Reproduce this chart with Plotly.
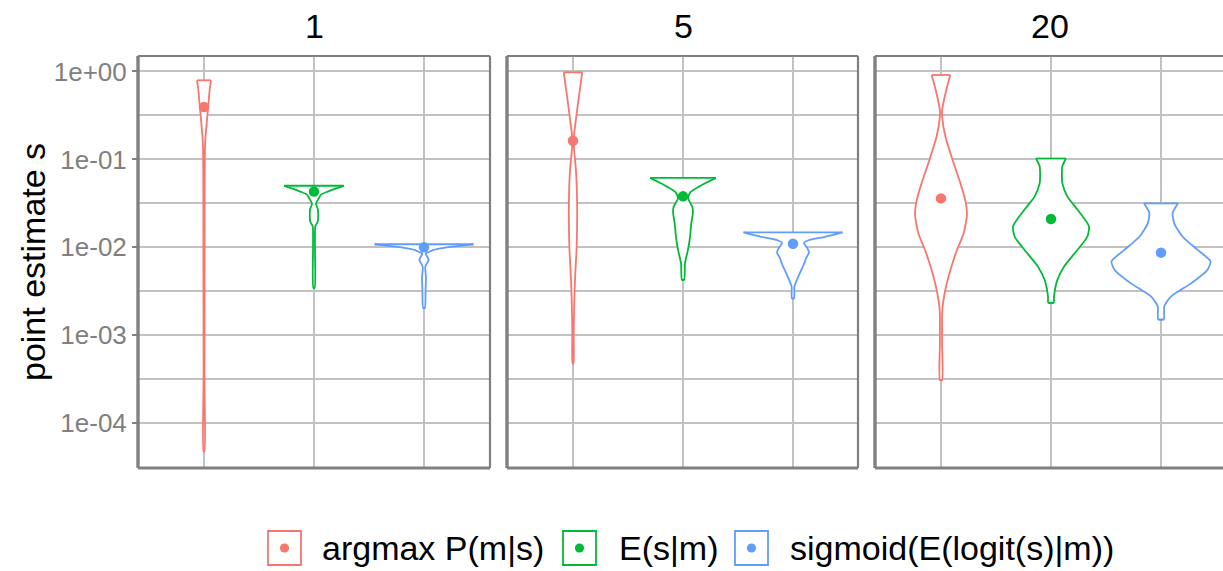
import plotly.graph_objects as go

# ---- data -------------------------------------------------------------
panels = ["1", "5", "20"]
methods = ["argmax P(m|s)", "E(s|m)", "sigmoid(E(logit(s)|m))"]
colors = ["#F8766D", "#00BA38", "#619CFF"]

# Violin outlines: log10(point estimate) levels from top to bottom and the
# density half-width (in category units) at each level.
p1_argmax_log = [-0.10, -0.20, -0.36, -0.55, -0.74, -0.90, -1.50, -2.50, -3.50, -4.32]
p1_argmax_hw = [0.064, 0.052, 0.041, 0.027, 0.014, 0.008, 0.006, 0.005, 0.004, 0.004]
p1_mean_log = [-1.30, -1.33, -1.366, -1.40, -1.46, -1.50, -1.57, -1.64, -1.71, -1.76, -2.00, -2.46]
p1_mean_hw = [0.272, 0.20, 0.124, 0.064, 0.036, 0.018, 0.036, 0.038, 0.034, 0.012, 0.009, 0.006]
p1_sigm_log = [-1.965, -1.99, -2.01, -2.03, -2.055, -2.07, -2.14, -2.22, -2.35, -2.50, -2.69]
p1_sigm_hw = [0.45, 0.28, 0.164, 0.088, 0.04, 0.015, 0.042, 0.012, 0.018, 0.014, 0.008]

p2_argmax_log = [-0.01, -0.32, -0.63, -0.78, -0.95, -1.08, -1.27, -1.46, -1.65, -1.84, -2.03, -2.22, -2.41, -2.60, -2.98, -3.32]
p2_argmax_hw = [0.084, 0.05, 0.018, 0.005, 0.014, 0.024, 0.033, 0.037, 0.038, 0.036, 0.032, 0.024, 0.017, 0.012, 0.006, 0.004]
p2_mean_log = [-1.21, -1.25, -1.31, -1.37, -1.44, -1.54, -1.61, -1.73, -1.88, -2.03, -2.18, -2.37]
p2_mean_hw = [0.30, 0.236, 0.145, 0.07, 0.045, 0.085, 0.09, 0.075, 0.064, 0.045, 0.018, 0.01]
p2_sigm_log = [-1.83, -1.88, -1.92, -1.95, -2.01, -2.06, -2.12, -2.19, -2.30, -2.41, -2.45, -2.58]
p2_sigm_hw = [0.45, 0.29, 0.14, 0.10, 0.13, 0.145, 0.12, 0.10, 0.06, 0.023, 0.012, 0.01]

p3_argmax_log = [-0.04, -0.21, -0.44, -0.51, -0.74, -1.01, -1.27, -1.46, -1.63, -1.84, -2.03, -2.26, -2.48, -2.71, -3.10, -3.51]
p3_argmax_hw = [0.085, 0.048, 0.01, 0.01, 0.04, 0.106, 0.176, 0.22, 0.236, 0.206, 0.145, 0.085, 0.04, 0.012, 0.01, 0.01]
p3_mean_log = [-0.99, -1.08, -1.27, -1.42, -1.57, -1.76, -1.88, -2.03, -2.22, -2.37, -2.56, -2.63]
p3_mean_hw = [0.136, 0.103, 0.103, 0.148, 0.24, 0.345, 0.33, 0.24, 0.118, 0.058, 0.027, 0.025]
p3_sigm_log = [-1.50, -1.61, -1.73, -1.88, -2.03, -2.16, -2.26, -2.41, -2.56, -2.67, -2.82]
p3_sigm_hw = [0.155, 0.106, 0.121, 0.197, 0.333, 0.45, 0.42, 0.273, 0.09, 0.03, 0.025]

# Summary points per panel (argmax, E, sigmoid)
p1_points = [0.395, 0.043, 0.0100]
p2_points = [0.163, 0.038, 0.0110]
p3_points = [0.036, 0.021, 0.0087]

y_tick_vals = [1e-4, 1e-3, 1e-2, 1e-1, 1e0]
y_tick_text = ["1e-04", "1e-03", "1e-02", "1e-01", "1e+00"]
y_minor_exp = [-4.5, -3.5, -2.5, -1.5, -0.5]

violins = [
    [(p1_argmax_log, p1_argmax_hw), (p1_mean_log, p1_mean_hw), (p1_sigm_log, p1_sigm_hw)],
    [(p2_argmax_log, p2_argmax_hw), (p2_mean_log, p2_mean_hw), (p2_sigm_log, p2_sigm_hw)],
    [(p3_argmax_log, p3_argmax_hw), (p3_mean_log, p3_mean_hw), (p3_sigm_log, p3_sigm_hw)],
]
points = [p1_points, p2_points, p3_points]

# ---- styling ----------------------------------------------------------
FONT = "Liberation Sans, Arial, sans-serif"
W, H = 1223, 571
GRID = "#C2C2C2"
BORDER = "#808080"
PX_PER_UNIT = 110.0
panel_px = [(138, 490), (507, 858), (875, 1223)]
y_top, y_bot = 56, 468
y_range = [-4.51, 0.176]

fig = go.Figure()

for pi in range(3):
    xa = "x" if pi == 0 else f"x{pi + 1}"
    ya = "y" if pi == 0 else f"y{pi + 1}"
    for mi in range(3):
        logs, hws = violins[pi][mi]
        c = mi + 1
        ys = [10 ** v for v in logs]
        xs_right = [c + w for w in hws]
        xs_left = [c - w for w in hws]
        # white body, smoothed sides
        x_poly = xs_right + xs_left[::-1]
        y_poly = ys + ys[::-1]
        fig.add_trace(go.Scatter(
            x=x_poly, y=y_poly, mode="lines", fill="toself",
            fillcolor="white", line=dict(color=colors[mi], width=1.8,
                                         shape="spline", smoothing=0.6),
            xaxis=xa, yaxis=ya, showlegend=False, hoverinfo="skip"))
        # flat trimmed ends
        for k in (0, -1):
            fig.add_trace(go.Scatter(
                x=[xs_left[k], xs_right[k]], y=[ys[k], ys[k]], mode="lines",
                line=dict(color=colors[mi], width=1.8),
                xaxis=xa, yaxis=ya, showlegend=False, hoverinfo="skip"))
    fig.add_trace(go.Scatter(
        x=[1, 2, 3], y=points[pi], mode="markers",
        marker=dict(color=colors, size=10.5, line=dict(width=0)),
        xaxis=xa, yaxis=ya, showlegend=False))

layout = dict(
    width=W, height=H,
    margin=dict(l=0, r=0, t=0, b=0),
    paper_bgcolor="white", plot_bgcolor="white",
    font=dict(family=FONT, color="black"),
    showlegend=False,
)

ydom = [(H - y_bot) / H, (H - y_top) / H]
for pi, (x0, x1) in enumerate(panel_px):
    suffix = "" if pi == 0 else str(pi + 1)
    width_units = (x1 - x0) / PX_PER_UNIT
    layout["xaxis" + suffix] = dict(
        domain=[x0 / W, x1 / W], range=[0.4, 0.4 + width_units],
        tickvals=[1, 2, 3], showticklabels=False, ticks="",
        showgrid=True, gridcolor=GRID, gridwidth=1.5,
        zeroline=False, showline=False, automargin=False,
        anchor="y" + suffix, fixedrange=True)
    ycfg = dict(
        domain=ydom, type="log", range=y_range,
        tickvals=y_tick_vals, ticktext=y_tick_text,
        showgrid=True, gridcolor=GRID, gridwidth=1.5,
        minor=dict(tickvals=[10 ** e for e in y_minor_exp], showgrid=True,
                   gridcolor=GRID, gridwidth=1.5, ticks=""),
        zeroline=False, showline=False, automargin=False,
        anchor="x" + suffix, fixedrange=True)
    if pi == 0:
        ycfg.update(ticks="outside", ticklen=5, tickwidth=1.5, tickcolor=BORDER,
                    ticklabelstandoff=0,
                    tickfont=dict(size=26, color="#808080", family=FONT))
    else:
        ycfg.update(showticklabels=False, ticks="")
    layout["yaxis" + suffix] = ycfg

fig.update_layout(**layout)

# panel borders
shapes = []
for pi in range(3):
    suffix = "" if pi == 0 else str(pi + 1)
    xr, yr = f"x{suffix} domain", f"y{suffix} domain"
    line_thin = dict(color=BORDER, width=2.2)
    shapes.append(dict(type="line", xref=xr, yref=yr, x0=0, x1=1, y0=1, y1=1, line=line_thin))
    shapes.append(dict(type="line", xref=xr, yref=yr, x0=0, x1=1, y0=0, y1=0,
                       line=dict(color=BORDER, width=2.8)))
    shapes.append(dict(type="line", xref=xr, yref=yr, x0=0, x1=0, y0=0, y1=1,
                       line=dict(color=BORDER, width=3.4)))
    if pi < 2:
        shapes.append(dict(type="line", xref=xr, yref=yr, x0=1, x1=1, y0=0, y1=1, line=line_thin))

# legend keys
legend_box_x = [268, 563, 735]
legend_text_x = [320, 617, 788]
box_w, box_top, box_bot = 33, 531, 565
annotations = []
for mi in range(3):
    bx = legend_box_x[mi]
    shapes.append(dict(type="rect", xref="paper", yref="paper",
                       x0=bx / W, x1=(bx + box_w) / W,
                       y0=(H - box_bot) / H, y1=(H - box_top) / H,
                       line=dict(color=colors[mi], width=1.8), fillcolor="white"))
    cx, cy, r = bx + box_w / 2, (box_top + box_bot) / 2, 4.6
    shapes.append(dict(type="circle", xref="paper", yref="paper",
                       x0=(cx - r) / W, x1=(cx + r) / W,
                       y0=(H - cy - r) / H, y1=(H - cy + r) / H,
                       line=dict(width=0), fillcolor=colors[mi]))
    annotations.append(dict(text=methods[mi], xref="paper", yref="paper",
                            x=legend_text_x[mi] / W, y=(H - 548) / H,
                            xanchor="left", yanchor="middle", showarrow=False,
                            font=dict(size=34, family=FONT, color="black")))

# strip labels
strip_centers = [314, 683, 1050]
for pi in range(3):
    annotations.append(dict(text=panels[pi], xref="paper", yref="paper",
                            x=strip_centers[pi] / W, y=(H - 26) / H,
                            xanchor="center", yanchor="middle",
                            showarrow=False, font=dict(size=34, family=FONT, color="black")))

# y axis title
annotations.append(dict(text="point estimate s", xref="paper", yref="paper",
                        x=33 / W, y=(H - 262) / H, xanchor="center", yanchor="middle",
                        textangle=-90, showarrow=False,
                        font=dict(size=34, family=FONT, color="black")))

fig.update_layout(shapes=shapes, annotations=annotations)
fig.write_html("out.html")
